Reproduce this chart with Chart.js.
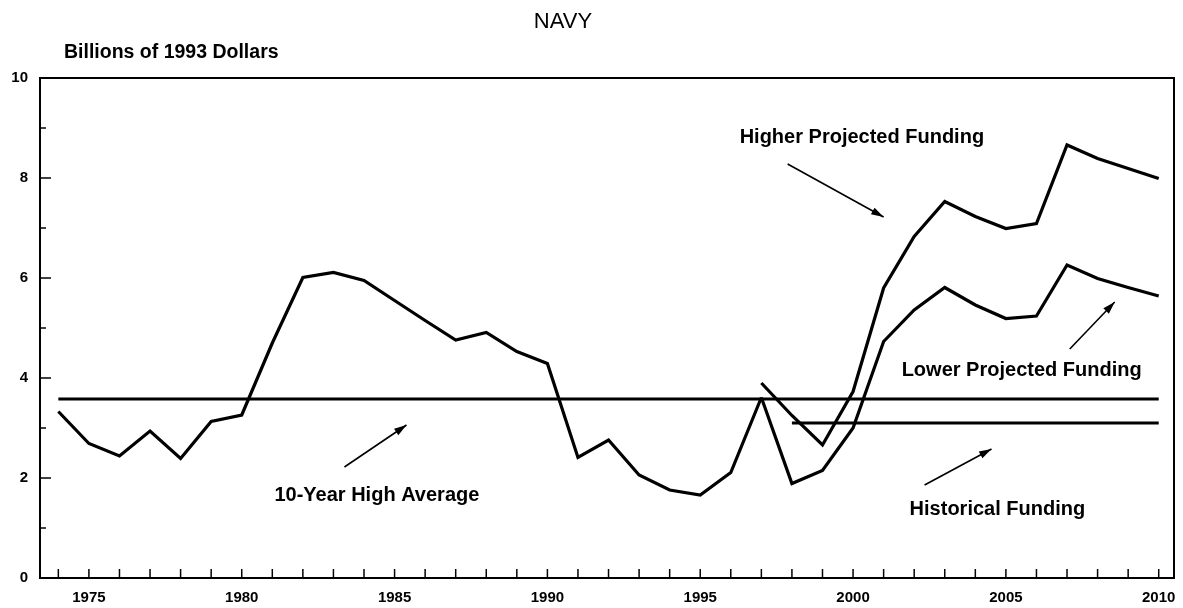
<!DOCTYPE html>
<html>
<head>
<meta charset="utf-8">
<script src="https://cdn.jsdelivr.net/npm/chart.js@4.4.0/dist/chart.umd.min.js"></script>
<style>
  body { margin: 0; background: #fff; }
  #wrap { width: 1183px; height: 608px; }
</style>
</head>
<body>
<div id="wrap"><canvas id="grafico"></canvas></div>
<script>
// Datos: miles de millones de dólares de 1993
const aniosHist = [1974, 1975, 1976, 1977, 1978, 1979, 1980, 1981, 1982, 1983, 1984, 1985,
  1986, 1987, 1988, 1989, 1990, 1991, 1992, 1993, 1994, 1995, 1996, 1997];
const historico = [3.33, 2.69, 2.44, 2.94, 2.39, 3.13, 3.26, 4.7, 6.01, 6.11, 5.95, 5.55,
  5.15, 4.76, 4.91, 4.53, 4.29, 2.41, 2.76, 2.06, 1.76, 1.66, 2.11, 3.61];

const aniosProy = [1997, 1998, 1999, 2000, 2001, 2002, 2003, 2004, 2005, 2006, 2007, 2008, 2009, 2010];
const proyAlta = [3.9, 3.25, 2.66, 3.73, 5.8, 6.83, 7.53, 7.23, 6.99, 7.09, 8.66, 8.39, 8.19, 7.99];
const proyBaja = [3.61, 1.89, 2.15, 3.0, 4.73, 5.36, 5.81, 5.46, 5.19, 5.24, 6.26, 5.99, 5.81, 5.64];

const aniosPromedio = [1974, 2010];
const promedio10 = [3.58, 3.58];
const aniosFondo = [1998, 2010];
const fondoHist = [3.1, 3.1];

const etiquetasX = [1975, 1980, 1985, 1990, 1995, 2000, 2005, 2010];
const etiquetasY = [0, 2, 4, 6, 8, 10];

// Anotaciones (texto y flechas) en coordenadas de datos
const textos = [
  { t: "Higher Projected Funding", x: 1996.29, y: 8.82 },
  { t: "Lower Projected Funding", x: 2001.59, y: 4.16 },
  { t: "Historical Funding", x: 2001.85, y: 1.37 },
  { t: "10-Year High Average", x: 1981.07, y: 1.66 }
];
const flechas = [
  { x1: 1997.86, y1: 8.28, x2: 2001.0, y2: 7.22 },
  { x1: 2007.09, y1: 4.58, x2: 2008.56, y2: 5.52 },
  { x1: 2002.34, y1: 1.86, x2: 2004.53, y2: 2.58 },
  { x1: 1983.36, y1: 2.22, x2: 1985.39, y2: 3.06 }
];

const FUENTE = '"Liberation Sans", Arial, sans-serif';

function puntos(xs, ys) {
  return xs.map((x, i) => ({ x: x, y: ys[i] }));
}

function linea(xs, ys, ancho) {
  return {
    data: puntos(xs, ys),
    borderColor: "#000",
    borderWidth: ancho,
    pointRadius: 0,
    tension: 0,
    fill: false
  };
}

// marco, marcas hacia adentro y textos
const marcoPlugin = {
  id: "marco",
  afterDraw(chart) {
    const ctx = chart.ctx;
    const a = chart.chartArea;
    const sx = chart.scales.x;
    const sy = chart.scales.y;
    ctx.save();
    ctx.strokeStyle = "#000";
    ctx.lineWidth = 2;
    ctx.strokeRect(a.left, a.top, a.right - a.left, a.bottom - a.top);

    ctx.lineWidth = 1.5;
    for (let anio = 1974; anio <= 2010; anio++) {
      const px = sx.getPixelForValue(anio);
      ctx.beginPath();
      ctx.moveTo(px, a.bottom);
      ctx.lineTo(px, a.bottom - 9);
      ctx.stroke();
    }
    for (let v = 1; v < 10; v++) {
      const py = sy.getPixelForValue(v);
      ctx.beginPath();
      ctx.moveTo(a.left, py);
      ctx.lineTo(a.left + (v % 2 === 0 ? 11 : 6), py);
      ctx.stroke();
    }

    ctx.fillStyle = "#000";
    ctx.textBaseline = "middle";
    ctx.textAlign = "center";
    ctx.font = "22px " + FUENTE;
    ctx.fillText("NAVY", 563, 22);
    ctx.textAlign = "left";
    ctx.font = "bold 19.5px " + FUENTE;
    ctx.fillText("Billions of 1993 Dollars", 64, 53);

    ctx.font = "bold 20px " + FUENTE;
    textos.forEach(o => {
      ctx.fillText(o.t, sx.getPixelForValue(o.x), sy.getPixelForValue(o.y));
    });

    ctx.lineWidth = 1.6;
    flechas.forEach(f => {
      const x1 = sx.getPixelForValue(f.x1), y1 = sy.getPixelForValue(f.y1);
      const x2 = sx.getPixelForValue(f.x2), y2 = sy.getPixelForValue(f.y2);
      const ang = Math.atan2(y2 - y1, x2 - x1);
      ctx.beginPath();
      ctx.moveTo(x1, y1);
      ctx.lineTo(x2, y2);
      ctx.stroke();
      ctx.beginPath();
      ctx.moveTo(x2, y2);
      ctx.lineTo(x2 - 13 * Math.cos(ang - 0.3), y2 - 13 * Math.sin(ang - 0.3));
      ctx.lineTo(x2 - 13 * Math.cos(ang + 0.3), y2 - 13 * Math.sin(ang + 0.3));
      ctx.closePath();
      ctx.fill();
    });
    ctx.restore();
  }
};

const ctx = document.getElementById("grafico").getContext("2d");
new Chart(ctx, {
  type: "line",
  data: {
    datasets: [
      linea(aniosHist, historico, 3.2),
      linea(aniosProy, proyAlta, 3.2),
      linea(aniosProy, proyBaja, 3.2),
      linea(aniosPromedio, promedio10, 2.8),
      linea(aniosFondo, fondoHist, 2.8)
    ]
  },
  options: {
    responsive: true,
    maintainAspectRatio: false,
    animation: false,
    layout: { padding: { top: 78, right: 9, left: 0, bottom: 0 } },
    plugins: {
      legend: { display: false },
      tooltip: { enabled: false }
    },
    scales: {
      x: {
        type: "linear",
        min: 1973.4,
        max: 2010.5,
        afterBuildTicks: axis => {
          axis.ticks = etiquetasX.map(v => ({ value: v }));
        },
        afterFit: s => {
          s.height = 30;
          s.paddingLeft = 0;
          s.paddingRight = 0;
        },
        grid: { display: false, drawTicks: false },
        border: { display: false },
        ticks: {
          padding: 11,
          maxRotation: 0,
          color: "#000",
          font: { family: FUENTE, size: 15, weight: "bold" },
          callback: v => String(v)
        }
      },
      y: {
        min: 0,
        max: 10,
        afterBuildTicks: axis => {
          axis.ticks = etiquetasY.map(v => ({ value: v }));
        },
        afterFit: s => {
          s.width = 40;
          s.paddingTop = 0;
          s.paddingBottom = 0;
        },
        grid: { display: false, drawTicks: false },
        border: { display: false },
        ticks: {
          padding: 12,
          color: "#000",
          font: { family: FUENTE, size: 15, weight: "bold" }
        }
      }
    }
  },
  plugins: [marcoPlugin]
});
</script>
</body>
</html>
